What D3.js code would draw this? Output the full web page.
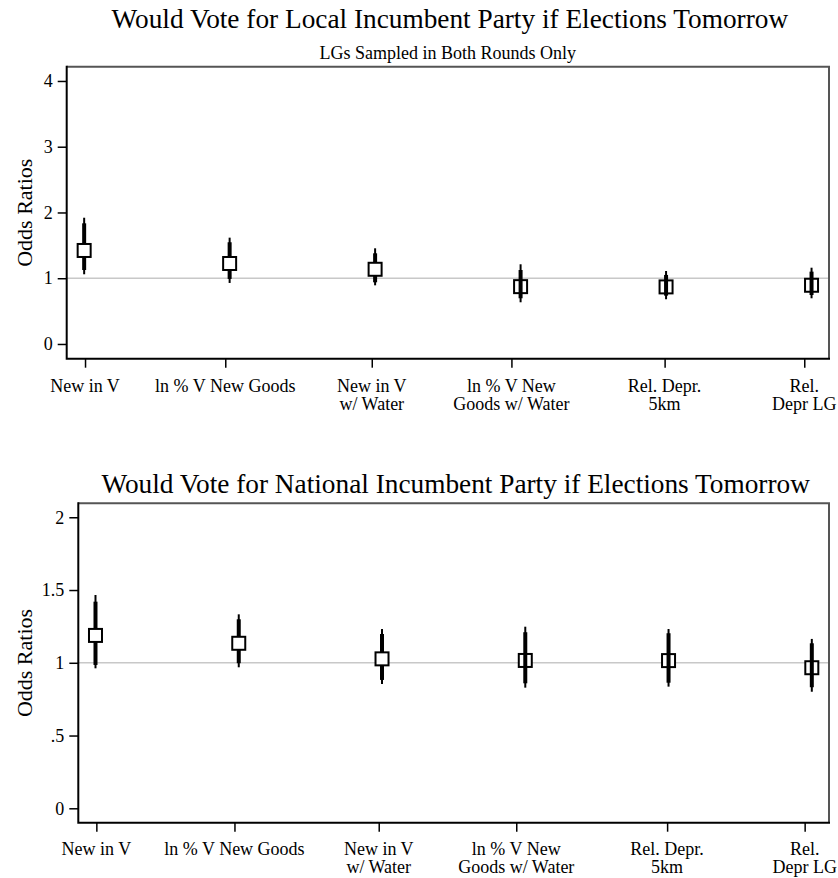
<!DOCTYPE html>
<html>
<head>
<meta charset="utf-8">
<script src="https://cdn.jsdelivr.net/npm/d3@7"></script>
<style>
  body { margin: 0; background: #fff; }
  svg text { font-family: "Liberation Serif", "Times New Roman", serif; fill: #000; }
</style>
</head>
<body>
<div id="chart"></div>
<script>
// categories and tick positions (shared by both panels)
const categories = [["New in V"], ["ln % V New Goods"], ["New in V", "w/ Water"],
    ["ln % V New", "Goods w/ Water"], ["Rel. Depr.", "5km"], ["Rel.", "Depr LG"]];
const catPos = [1, 2, 3, 4, 5, 6];
const catTickPos = [1.006, 1.97, 2.977, 3.937, 4.99, 5.95];

// local incumbent party
const localOR = [1.422, 1.224, 1.136, 0.872, 0.868, 0.893];
const localThickLo = [1.125, 0.989, 0.938, 0.695, 0.735, 0.745];
const localThickHi = [1.835, 1.547, 1.379, 1.125, 1.05, 1.10];
const localThinLo = [1.06, 0.928, 0.892, 0.634, 0.68, 0.695];
const localThinHi = [1.92, 1.617, 1.455, 1.212, 1.11, 1.16];
const localTicks = [0, 1, 2, 3, 4];

// national incumbent party
const natOR = [1.188, 1.134, 1.027, 1.016, 1.015, 0.966];
const natThickLo = [0.985, 0.997, 0.882, 0.859, 0.863, 0.832];
const natThickHi = [1.42, 1.299, 1.198, 1.21, 1.203, 1.134];
const natThinLo = [0.962, 0.969, 0.854, 0.829, 0.836, 0.801];
const natThinHi = [1.466, 1.333, 1.232, 1.248, 1.232, 1.164];
const natTicks = [0, 0.5, 1, 1.5, 2];

const width = 838, height = 878;
const svg = d3.select('#chart')
    .append('svg')
    .attr('width', width)
    .attr('height', height);

function panel(opt) {
    const { left, right, top, bottom } = opt;
    const g = svg.append('g');

    const xScale = d3.scaleLinear().domain([0.88, 6.12]).range([left, right]);
    const yScale = d3.scaleLinear().domain(opt.yDomain).range([bottom, top]);

    /* title */
    g.append('text')
        .text(opt.title)
        .attr('x', (left + right) / 2 + 2)
        .attr('y', opt.titleY)
        .attr('text-anchor', 'middle')
        .style('font-size', '27.3px');

    if (opt.subtitle) {
        g.append('text')
            .text(opt.subtitle)
            .attr('x', (left + right) / 2)
            .attr('y', opt.subtitleY)
            .attr('text-anchor', 'middle')
            .style('font-size', '18px');
    }

    /* reference line at 1 */
    g.append('line')
        .attr('x1', left).attr('x2', right)
        .attr('y1', yScale(1)).attr('y2', yScale(1))
        .attr('stroke', '#c8c8c8')
        .attr('stroke-width', 1.5);

    /* top and right border */
    g.append('path')
        .attr('d', `M${left},${top}H${right}V${bottom}`)
        .attr('fill', 'none')
        .attr('stroke', '#555')
        .attr('stroke-width', 2);

    /* y axis */
    const yAxis = d3.axisLeft(yScale)
        .tickValues(opt.yTicks)
        .tickSize(9)
        .tickPadding(5)
        .tickFormat(d => d3.format('')(d).replace(/^0\./, '.'));
    const ya = g.append('g')
        .attr('transform', `translate(${left},0)`)
        .call(yAxis);
    ya.select('.domain').remove();
    ya.selectAll('.tick line').attr('stroke', '#000').attr('stroke-width', 1.5);
    ya.selectAll('text')
        .style('font-size', '18px')
        .style('font-family', '"Liberation Serif", serif');

    /* x axis */
    const xAxis = d3.axisBottom(xScale)
        .tickValues(catTickPos)
        .tickSize(9)
        .tickFormat('');
    const xa = g.append('g')
        .attr('transform', `translate(0,${bottom})`)
        .call(xAxis);
    xa.select('.domain').remove();
    xa.selectAll('.tick line').attr('stroke', '#000').attr('stroke-width', 1.5);

    g.selectAll('.xlab')
        .data(categories)
        .join('text')
        .attr('class', 'xlab')
        .attr('text-anchor', 'middle')
        .attr('transform', (d, i) => `translate(${xScale(catTickPos[i])},${opt.xLabY})`)
        .style('font-size', '18px')
        .selectAll('tspan')
        .data(d => d)
        .join('tspan')
        .attr('x', 0)
        .attr('y', (d, i) => i * 18)
        .text(d => d);

    /* left and bottom axis lines */
    g.append('path')
        .attr('d', `M${left},${top - 1}V${bottom}H${right + 1}`)
        .attr('fill', 'none')
        .attr('stroke', '#000')
        .attr('stroke-width', 2);

    /* y label */
    g.append('text')
        .text('Odds Ratios')
        .attr('transform', `translate(32,${(top + bottom) / 2}) rotate(-90)`)
        .attr('text-anchor', 'middle')
        .style('font-size', '22px');

    /* estimates */
    const data = opt.or.map((v, i) => ({
        x: catPos[i], or: v,
        tLo: opt.thickLo[i], tHi: opt.thickHi[i],
        nLo: opt.thinLo[i], nHi: opt.thinHi[i]
    }));

    const sq = 13;
    const drawBars = (sel) => {
        sel.append('line')
            .attr('x1', d => xScale(d.x)).attr('x2', d => xScale(d.x))
            .attr('y1', d => yScale(d.nLo)).attr('y2', d => yScale(d.nHi))
            .attr('stroke', '#000').attr('stroke-width', 2);
        sel.append('line')
            .attr('x1', d => xScale(d.x)).attr('x2', d => xScale(d.x))
            .attr('y1', d => yScale(d.tLo)).attr('y2', d => yScale(d.tHi))
            .attr('stroke', '#000').attr('stroke-width', 4);
    };
    const drawMarker = (sel) => {
        sel.append('rect')
            .attr('x', d => xScale(d.x) - sq / 2)
            .attr('y', d => yScale(d.or) - sq / 2)
            .attr('width', sq).attr('height', sq)
            .attr('fill', '#fff')
            .attr('stroke', '#000')
            .attr('stroke-width', 2);
    };

    const est = g.selectAll('.est')
        .data(data)
        .join('g')
        .attr('class', 'est');
    // first three: marker over bars, rest: bars drawn through the marker
    est.filter((d, i) => i < 3).call(drawBars).call(drawMarker);
    est.filter((d, i) => i >= 3).call(drawMarker).call(drawBars);
}

panel({
    left: 66.7, right: 829, top: 66.7, bottom: 358.7,
    yDomain: [-0.224, 4.217], yTicks: localTicks,
    title: 'Would Vote for Local Incumbent Party if Elections Tomorrow', titleY: 28,
    subtitle: 'LGs Sampled in Both Rounds Only', subtitleY: 59,
    xLabY: 391.5,
    or: localOR, thickLo: localThickLo, thickHi: localThickHi,
    thinLo: localThinLo, thinHi: localThinHi
});

panel({
    left: 78.3, right: 829, top: 503.3, bottom: 822.7,
    yDomain: [-0.099, 2.096], yTicks: natTicks,
    title: 'Would Vote for National Incumbent Party if Elections Tomorrow', titleY: 493,
    xLabY: 855,
    or: natOR, thickLo: natThickLo, thickHi: natThickHi,
    thinLo: natThinLo, thinHi: natThinHi
});
</script>
</body>
</html>
